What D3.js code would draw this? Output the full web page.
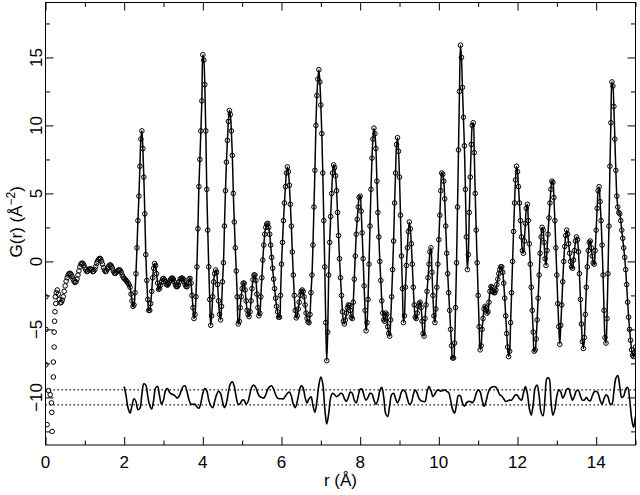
<!DOCTYPE html>
<html>
<head>
<meta charset="utf-8">
<script src="https://cdn.jsdelivr.net/npm/d3@7"></script>
<style>
  body { margin: 0; background: #fff; }
  svg { display: block; background: #fff; }
</style>
</head>
<body>
<svg id="chart"></svg>
<script>
const WIDTH = 640;
const HEIGHT = 495;
const X_DOMAIN = [0, 15];
const Y_DOMAIN = [-13.5, 19.04];
const FONT = '"Liberation Sans", Arial, sans-serif';

// sampling grids (Å)
const OBS_START = 0.25;
const OBS_STEP = 0.025;
const DIFF_START = 2.0;
const DIFF_STEP = 0.05;
const FIT_START = 2.0;
const DIFF_BAND = [-9.45, -10.55]; // dotted reference lines

// scattered points below r = 0.3 Å  [r, G]
const lowRObs = [
    [0.01, -2.6], [0.26, -3.1], [0.24, -3.7], [0.23, -4.4], [0.22, -5.2],
    [0.01, -5.0], [0.22, -6.3], [0.20, -7.4], [0.01, -7.6], [0.20, -8.5],
    [0.08, -9.5], [0.12, -9.8], [0.15, -10.4], [0.16, -11.1], [0.04, -12.0],
    [0.17, -12.5]
];

// observed G(r), r = 0.25 ... 15.00 step 0.025 (20 values per row = 0.5 Å)
const gObs = [
    -2.6, -2.3, -2.1, -2.4, -2.8, -3.05, -3.0, -2.85, -2.6, -2.2, -1.8, -1.45, -1.2, -1.0, -0.9, -0.87, -0.95, -1.1, -1.3, -1.45,   // 0.25
    -1.55, -1.5, -1.3, -1.0, -0.7, -0.4, -0.2, -0.13, -0.15, -0.28, -0.45, -0.62, -0.75, -0.7, -0.6, -0.55, -0.55, -0.62, -0.75, -0.72, // 0.75
    -0.6, -0.38, -0.15, 0.02, 0.15, 0.22, 0.2, 0.02, -0.2, -0.45, -0.65, -0.75, -0.7, -0.55, -0.4, -0.28, -0.26, -0.35, -0.5, -0.7,   // 1.25
    -0.85, -0.88, -0.8, -0.72, -0.65, -0.62, -0.65, -0.8, -1.0, -1.15, -1.25, -1.32, -1.4, -1.5, -1.6, -1.72, -1.9, -2.4, -2.9, -3.3,  // 1.75
    -3.2, -2.3, -0.9, 1.0, 3.0, 4.8, 7.0, 9.0, 9.6, 8.3, 6.2, 3.5, 0.5, -1.4, -2.8, -3.6, -3.6, -3.1, -2.2, -1.2,                     // 2.25
    -0.5, -0.15, -0.3, -0.9, -1.6, -2.05, -2.0, -1.75, -1.5, -1.3, -1.25, -1.35, -1.5, -1.7, -1.75, -1.65, -1.5, -1.35, -1.25, -1.22, // 2.75
    -1.3, -1.5, -1.7, -1.85, -1.85, -1.75, -1.5, -1.3, -1.25, -1.22, -1.3, -1.5, -1.7, -1.85, -1.85, -1.6, -1.3, -1.25, -1.6, -2.5,   // 3.25
    -3.4, -4.2, -3.9, -2.6, -0.4, 2.4, 5.5, 7.5, 9.6, 11.8, 15.2, 14.8, 13.0, 9.6, 5.3, 2.3, -0.4, -2.8, -4.7, -4.0,                  // 3.75
    -2.6, -1.5, -0.9, -0.63, -0.8, -1.7, -2.9, -3.9, -4.3, -3.3, -1.5, -0.1, 2.6, 5.2, 7.3, 8.9, 10.3, 11.1, 10.8, 9.6,              // 4.25
    7.8, 5.0, 2.9, 1.0, -0.7, -2.6, -4.6, -4.4, -3.4, -2.6, -2.0, -1.6, -1.6, -2.1, -2.9, -3.6, -3.9, -4.06, -3.7, -2.9,             // 4.75
    -2.0, -1.35, -1.0, -1.0, -1.4, -2.4, -3.4, -4.0, -3.8, -2.6, -1.2, 0.1, 1.2, 2.0, 2.5, 2.75, 2.8, 2.5, 2.0, 1.2,                 // 5.25
    0.3, -0.5, -1.3, -2.0, -2.7, -3.3, -3.7, -4.1, -4.1, -2.5, -0.2, 1.4, 3.0, 4.3, 5.5, 6.5, 6.95, 6.6, 5.6, 4.2,                   // 5.75
    2.6, 0.7, -1.0, -2.5, -3.6, -4.15, -4.0, -3.5, -3.0, -2.5, -2.2, -2.1, -2.2, -2.6, -3.2, -3.8, -4.2, -4.45, -4.5, -3.9,          // 6.25
    -2.3, -1.0, 1.2, 4.0, 6.7, 10.0, 12.2, 13.4, 14.1, 13.2, 11.5, 9.4, 6.5, 3.0, -0.4, -4.5, -7.3, -5.2, -1.0, 1.4,                 // 6.75
    3.3, 5.0, 6.5, 7.1, 6.9, 6.3, 5.2, 3.6, 1.9, 0.2, -1.2, -2.5, -3.7, -4.4, -4.6, -4.3, -3.8, -3.4, -3.2, -3.25,                   // 7.25
    -3.6, -4.1, -4.2, -3.0, -1.3, 0.4, 2.0, 3.1, 4.0, 4.7, 4.8, 3.7, 2.1, 0.2, -1.8, -3.6, -5.1, -4.5, -2.8, -0.2,                   // 7.75
    2.6, 5.3, 7.6, 9.0, 9.8, 9.4, 8.3, 5.9, 3.6, 1.8, 0.0, -1.4, -2.9, -3.8, -4.3, -4.4, -3.8, -3.9, -4.8, -5.3,                     // 8.25
    -5.5, -4.3, -2.6, -0.6, 1.5, 4.3, 6.5, 8.6, 9.1, 8.1, 6.2, 3.4, 0.4, -2.0, -4.5, -4.0, -1.9, -0.3, 1.0, 2.2,                     // 8.75
    2.9, 2.4, 1.3, -0.2, -1.9, -3.2, -4.1, -4.2, -3.8, -3.3, -3.1, -3.0, -3.4, -4.4, -5.3, -5.5, -4.2, -3.2, -2.2, -1.2,             // 9.25
    -0.2, 0.7, 1.0, -0.8, -2.5, -4.0, -4.5, -3.5, -1.9, -0.2, 1.6, 3.4, 5.2, 6.5, 6.4, 5.9, 4.6, 2.6, 0.6, -0.9,                     // 9.75
    -2.3, -3.6, -5.0, -6.2, -7.1, -7.1, -6.0, -3.4, -0.1, 4.0, 8.2, 12.5, 15.9, 15.0, 12.8, 10.6, 8.5, 5.3, 1.8, -0.6,               // 10.25
    0.5, 3.6, 6.2, 8.6, 10.0, 10.2, 8.0, 5.0, 2.3, -0.1, -2.5, -4.8, -6.5, -6.2, -5.0, -4.2, -3.5, -3.3, -3.4, -3.8,                 // 10.75
    -3.7, -3.0, -2.2, -1.85, -1.9, -2.2, -2.3, -2.3, -2.1, -1.7, -1.3, -0.9, -0.6, -0.4, -0.4, -0.8, -1.6, -2.7, -4.0, -5.3,         // 11.25
    -6.3, -7.0, -6.6, -4.5, -2.3, 0.0, 2.2, 4.3, 6.0, 7.0, 6.6, 5.5, 4.3, 3.0, 1.8, 0.8, 0.6, 1.5, 2.8, 3.9,                         // 11.75
    4.2, 3.0, 1.3, -0.2, -1.9, -3.6, -5.2, -6.6, -6.5, -5.7, -4.3, -2.7, -1.0, 0.6, 1.8, 2.5, 2.3, 1.4, 0.2, -0.3,                   // 12.25
    0.8, 2.0, 3.2, 4.3, 5.3, 5.9, 5.8, 4.7, 3.0, 1.0, -1.0, -3.1, -4.8, -6.1, -4.7, -3.2, -1.5, 0.0, 1.1, 1.9,                       // 12.75
    2.3, 2.0, 1.3, 0.6, 0.0, -0.4, -0.5, 0.1, 0.8, 1.5, 1.8, 1.6, 0.7, -0.9, -2.8, -4.6, -5.9, -6.4, -5.6, -3.9,                     // 13.25
    -1.9, -0.4, 0.8, 1.4, 1.5, 1.0, 0.4, -0.1, -0.2, 0.8, 2.3, 3.9, 5.2, 5.5, 4.4, 3.0, 1.2, -1.0, -3.6, -5.6,                       // 13.75
    -6.0, -4.2, -0.9, 2.6, 7.0, 10.2, 13.2, 12.9, 11.4, 9.0, 6.7, 4.8, 4.0, 3.6, 3.5, 3.0, 2.3, 1.7, 1.0, 0.3,                       // 14.25
    -0.6, -1.7, -3.0, -4.1, -5.0, -5.8, -6.5, -6.9, -7.0, -6.7, -6.3                                                                 // 14.75
];

// difference curve (shifted by -10), r = 2.00 ... 15.00 step 0.05 (20 values per row = 1 Å)
const gDiff = [
    -9.2, -9.9, -10.8, -11.15, -10.6, -10.1, -10.3, -10.9, -10.8, -9.8, -9.0, -9.1, -9.9, -10.6, -10.85, -10.2, -9.3, -9.2, -9.9, -10.5,        // 2
    -10.2, -9.5, -9.35, -9.6, -9.75, -9.8, -9.9, -10.05, -9.9, -9.5, -9.2, -9.15, -9.6, -10.2, -10.5, -10.5, -10.5, -10.7, -10.8, -10.4,        // 3
    -9.7, -9.35, -9.5, -10.2, -10.6, -10.75, -10.3, -9.8, -9.55, -9.7, -10.3, -10.75, -10.4, -9.6, -9.0, -8.85, -9.2, -10.0, -10.5, -10.45,     // 4
    -10.2, -10.2, -10.5, -10.3, -9.7, -9.2, -9.1, -9.3, -9.7, -9.95, -10.0, -10.05, -9.8, -9.4, -9.2, -9.15, -9.4, -9.8, -10.05, -10.1,         // 5
    -10.1, -10.1, -9.9, -9.7, -9.6, -9.9, -10.5, -10.75, -10.3, -9.6, -9.15, -9.3, -10.0, -10.4, -10.1, -9.95, -10.6, -11.1, -10.3, -9.1,       // 6
    -8.5, -9.0, -10.8, -11.95, -11.2, -10.0, -9.7, -9.8, -9.95, -9.85, -9.7, -9.75, -10.1, -10.3, -10.0, -9.6, -9.7, -10.2, -10.4, -9.9,        // 7
    -9.4, -9.4, -9.9, -10.2, -10.0, -9.7, -9.75, -10.2, -10.5, -10.2, -9.5, -9.25, -10.0, -11.2, -11.4, -10.6, -9.8, -9.7, -10.1, -10.4,        // 8
    -10.1, -9.6, -9.45, -9.6, -10.1, -10.5, -10.4, -9.8, -9.45, -9.7, -10.1, -10.25, -10.3, -10.3, -9.6, -9.2, -9.5, -9.95, -9.75, -9.5,        // 9
    -9.45, -9.55, -9.5, -9.45, -9.55, -9.65, -10.2, -10.9, -11.15, -10.5, -9.85, -9.9, -10.4, -10.65, -10.4, -10.3, -10.3, -10.4, -10.2, -9.7,  // 10
    -9.45, -9.6, -10.2, -10.65, -10.3, -9.7, -9.35, -9.25, -9.2, -9.25, -9.5, -9.8, -9.9, -10.1, -10.3, -10.25, -10.2, -10.2, -10.0, -9.8,      // 11
    -9.85, -10.1, -10.2, -9.7, -9.2, -9.7, -10.8, -11.3, -10.5, -9.3, -9.1, -9.9, -11.1, -11.35, -10.0, -8.6, -8.6, -10.2, -11.3, -10.9,        // 12
    -9.9, -9.45, -9.6, -10.05, -9.8, -9.4, -9.35, -9.8, -10.2, -9.9, -9.5, -9.5, -9.9, -10.2, -10.2, -10.0, -10.2, -10.25, -9.9, -9.6,          // 13
    -9.55, -9.7, -10.2, -10.5, -10.1, -9.8, -9.95, -10.45, -10.5, -9.6, -8.6, -8.4, -9.2, -10.0, -9.9, -9.4, -9.25, -10.1, -11.5, -12.2,        // 14
    -11.4
];

const xMajor = [0, 2, 4, 6, 8, 10, 12, 14];
const xMinor = [1, 3, 5, 7, 9, 11, 13, 15];
const yMajor = [-10, -5, 0, 5, 10, 15];
const yMinor = [-12.5, -7.5, -2.5, 2.5, 7.5, 12.5, 17.5];


document.addEventListener("DOMContentLoaded", function() {
    const x = d3.scaleLinear(X_DOMAIN, [45.5, 635.5]);
    const y = d3.scaleLinear(Y_DOMAIN, [445, 2.5]);
    const [x0, x1] = x.range();
    const [y0, y1] = y.range();

    const obs = gObs.map((g, i) => ({r: OBS_START + i * OBS_STEP, g}));
    const diff = gDiff.map((g, i) => ({r: DIFF_START + i * DIFF_STEP, g}));
    // the fitted curve is drawn through the data from r = 2 Å on
    const fit = obs.filter(d => d.r >= FIT_START - 1e-9);
    const allObs = lowRObs.map(([r, g]) => ({r, g})).concat(obs);

    const svg = d3.select("#chart")
        .attr("width", WIDTH)
        .attr("height", HEIGHT);

    svg.append("defs").append("clipPath").attr("id", "plot")
        .append("rect")
        .attr("x", x0).attr("y", y1)
        .attr("width", x1 - x0).attr("height", y0 - y1);

    const plot = svg.append("g").attr("clip-path", "url(#plot)");

    // dotted band round the difference curve
    plot.selectAll("line.band")
        .data(DIFF_BAND)
        .enter()
        .append("line")
        .attr("class", "band")
        .attr("x1", x(X_DOMAIN[0])).attr("x2", x(X_DOMAIN[1]))
        .attr("y1", d => y(d)).attr("y2", d => y(d))
        .attr("stroke", "#000")
        .attr("stroke-width", 1.2)
        .attr("stroke-dasharray", "1.4 2.6");

    // observed points
    plot.selectAll("circle")
        .data(allObs)
        .enter()
        .append("circle")
        .attr("cx", d => x(d.r))
        .attr("cy", d => y(d.g))
        .attr("r", 2.3)
        .attr("fill", "none")
        .attr("stroke", "#000")
        .attr("stroke-width", 1);

    const line = d3.line()
        .x(d => x(d.r))
        .y(d => y(d.g))
        .curve(d3.curveCatmullRom.alpha(0.5));

    plot.append("path")
        .attr("d", line(fit))
        .attr("fill", "none")
        .attr("stroke", "#000")
        .attr("stroke-width", 1.5);

    plot.append("path")
        .attr("d", line(diff))
        .attr("fill", "none")
        .attr("stroke", "#000")
        .attr("stroke-width", 1.6);

    // ticks on all four sides, pointing inwards
    function ticks(axis, values, size, transform) {
        const g = svg.append("g")
            .attr("transform", transform)
            .call(axis.tickValues(values).tickSize(-size).tickFormat(""));
        g.select(".domain").remove();
        g.selectAll("line").attr("stroke", "#000").attr("stroke-width", 1);
        return g;
    }
    ticks(d3.axisBottom(x), xMajor, 8, `translate(0,${y0})`);
    ticks(d3.axisBottom(x), xMinor, 4.5, `translate(0,${y0})`);
    ticks(d3.axisTop(x), xMajor, 8, `translate(0,${y1})`);
    ticks(d3.axisTop(x), xMinor, 4.5, `translate(0,${y1})`);
    ticks(d3.axisLeft(y), yMajor, 8, `translate(${x0},0)`);
    ticks(d3.axisLeft(y), yMinor, 4.5, `translate(${x0},0)`);
    ticks(d3.axisRight(y), yMajor, 8, `translate(${x1},0)`);
    ticks(d3.axisRight(y), yMinor, 4.5, `translate(${x1},0)`);

    svg.append("rect")
        .attr("x", x0).attr("y", y1)
        .attr("width", x1 - x0).attr("height", y0 - y1)
        .attr("fill", "none")
        .attr("stroke", "#000")
        .attr("stroke-width", 1);

    // tick labels
    const fmt = d3.format("d");
    svg.append("g")
        .selectAll("text")
        .data(xMajor)
        .enter()
        .append("text")
        .attr("x", d => x(d))
        .attr("y", y0 + 23)
        .attr("text-anchor", "middle")
        .attr("font-family", FONT)
        .attr("font-size", 17)
        .text(fmt);

    svg.append("g")
        .selectAll("text")
        .data(yMajor)
        .enter()
        .append("text")
        .attr("transform", d => `translate(${x0 - 4},${y(d)}) rotate(-90)`)
        .attr("text-anchor", "middle")
        .attr("font-family", FONT)
        .attr("font-size", 17)
        .text(fmt);

    // axis titles
    svg.append("text")
        .attr("x", (x0 + x1) / 2)
        .attr("y", 486)
        .attr("text-anchor", "middle")
        .attr("font-family", FONT)
        .attr("font-size", 17)
        .text("r (Å)");

    const yTitle = svg.append("text")
        .attr("transform", `translate(22,${(y0 + y1) / 2 - 2}) rotate(-90)`)
        .attr("text-anchor", "middle")
        .attr("font-family", FONT)
        .attr("font-size", 17);
    yTitle.append("tspan").text("G(r)  (Å");
    yTitle.append("tspan").attr("dy", -7).attr("font-size", 12).text("−2");
    yTitle.append("tspan").attr("dy", 7).text(")");
});
</script>
</body>
</html>
